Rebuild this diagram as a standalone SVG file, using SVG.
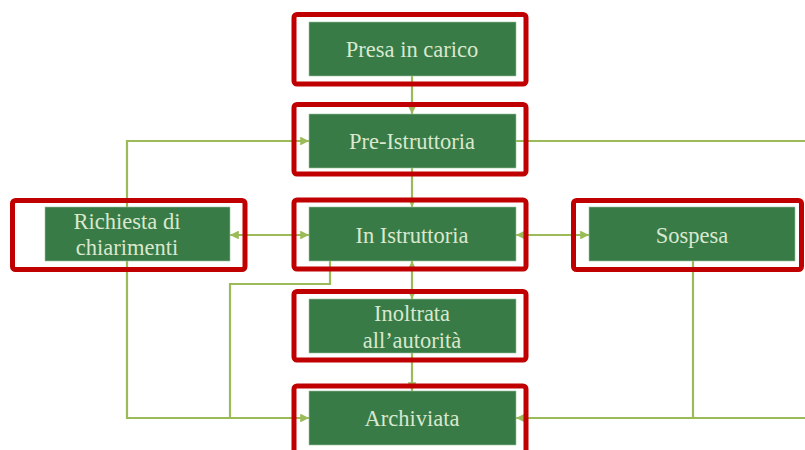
<svg xmlns="http://www.w3.org/2000/svg" width="805" height="450" viewBox="0 0 805 450">
<defs>
<marker id="ah" viewBox="0 0 10 10" refX="10" refY="5" markerWidth="4" markerHeight="4" orient="auto-start-reverse" markerUnits="strokeWidth">
<path d="M0,0 L10,5 L0,10 Z" fill="#9BBB59"/>
</marker>
<style>
.frame{fill:none;stroke:#C00000;stroke-width:5}
.box{fill:#387B46;stroke:#9DC39F;stroke-width:0.6}
.lbl{font-family:"Liberation Serif","DejaVu Serif",serif;font-size:22.5px;fill:#D9E8CF;text-anchor:middle;dominant-baseline:central}
.c{fill:none;stroke:#9BBB59;stroke-width:2.2}
</style>
</defs>
<rect width="805" height="450" fill="#FFFFFF"/>
<g id="connectors">
<path class="c" d="M412,76 V114" marker-end="url(#ah)"/>
<path class="c" d="M412,168 V207" marker-end="url(#ah)"/>
<path class="c" d="M412,261 V299" marker-start="url(#ah)" marker-end="url(#ah)"/>
<path class="c" d="M412,353 V391" marker-end="url(#ah)"/>
<path class="c" d="M309,235 H230" marker-start="url(#ah)" marker-end="url(#ah)"/>
<path class="c" d="M516,235 H589" marker-start="url(#ah)" marker-end="url(#ah)"/>
<path class="c" d="M127,207 V141 H309" marker-end="url(#ah)"/>
<path class="c" d="M516,141 H805"/>
<path class="c" d="M127,261 V418 H309" marker-end="url(#ah)"/>
<path class="c" d="M330,261 V284 H230 V418"/>
<path class="c" d="M693,261 V418 H516" marker-end="url(#ah)"/>
<path class="c" d="M805,418 H693"/>
</g>
<g id="presa">
<rect class="frame" x="294" y="14.5" width="232" height="69.5" rx="3"/>
<rect class="box" x="309" y="22" width="207" height="54"/>
<text class="lbl" x="412" y="49">Presa in carico</text>
</g>
<g id="pre">
<rect class="frame" x="294" y="104.5" width="232" height="69.5" rx="3"/>
<rect class="box" x="309" y="114" width="207" height="54"/>
<text class="lbl" x="412" y="141">Pre-Istruttoria</text>
</g>
<g id="istruttoria">
<rect class="frame" x="294" y="200" width="232" height="69" rx="3"/>
<rect class="box" x="309" y="207" width="207" height="54"/>
<text class="lbl" x="412" y="235">In Istruttoria</text>
</g>
<g id="richiesta">
<rect class="frame" x="12.5" y="200.5" width="232.5" height="69" rx="3"/>
<rect class="box" x="45" y="207" width="185" height="54"/>
<text class="lbl" x="127" y="221">Richiesta di</text>
<text class="lbl" x="127" y="247">chiarimenti</text>
</g>
<g id="sospesa">
<rect class="frame" x="573.5" y="200.5" width="228" height="69" rx="3"/>
<rect class="box" x="589" y="207" width="206" height="54"/>
<text class="lbl" x="692" y="235">Sospesa</text>
</g>
<g id="inoltrata">
<rect class="frame" x="294" y="291.5" width="232" height="68.5" rx="3"/>
<rect class="box" x="309" y="299" width="207" height="54"/>
<text class="lbl" x="412" y="313">Inoltrata</text>
<text class="lbl" x="412" y="340">all’autorità</text>
</g>
<g id="archiviata">
<rect class="frame" x="294" y="386" width="232" height="80" rx="3"/>
<rect class="box" x="309" y="391" width="207" height="54"/>
<text class="lbl" x="412" y="418">Archiviata</text>
</g>
</svg>
